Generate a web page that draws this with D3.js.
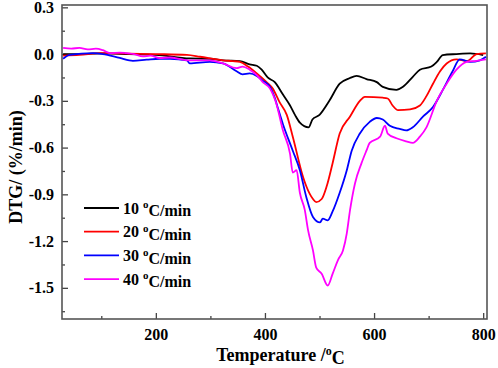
<!DOCTYPE html>
<html>
<head>
<meta charset="utf-8">
<script src="https://cdn.jsdelivr.net/npm/d3@7"></script>
<style>
  body { margin: 0; background: #fff; }
  text { font-family: "Liberation Serif", "Times New Roman", serif; font-weight: bold; }
</style>
</head>
<body>
<svg id="chart" width="498" height="368"></svg>
<script>
// DTG curves, [temperature °C, DTG %/min]
var rate10 = [[30,0.0],[60,0.0],[100,0.005],[150,0.0],[200,-0.005],[262,-0.028],[299,-0.03],[323,-0.04],[354,-0.045],[372,-0.066],[385,-0.075],[394,-0.10],[405,-0.15],[418,-0.18],[433,-0.26],[446,-0.33],[455,-0.39],[464,-0.44],[480,-0.47],[487,-0.42],[500,-0.39],[518,-0.30],[537,-0.19],[555,-0.155],[568,-0.14],[586,-0.16],[605,-0.18],[616,-0.21],[641,-0.23],[653,-0.21],[671,-0.146],[684,-0.10],[705,-0.08],[715,-0.05],[726,-0.006],[751,0.0],[776,0.004],[800,-0.006]];
var rate20 = [[30,-0.01],[60,-0.005],[100,0.006],[150,0.003],[200,0.0],[257,-0.005],[281,-0.017],[323,-0.04],[341,-0.045],[354,-0.05],[369,-0.08],[385,-0.124],[403,-0.18],[414,-0.22],[427,-0.31],[440,-0.39],[451,-0.53],[470,-0.79],[476,-0.85],[488,-0.93],[494,-0.95],[504,-0.93],[513,-0.85],[524,-0.70],[537,-0.51],[556,-0.40],[574,-0.30],[583,-0.274],[616,-0.28],[625,-0.285],[634,-0.33],[644,-0.36],[666,-0.355],[684,-0.33],[696,-0.27],[708,-0.19],[721,-0.11],[733,-0.06],[751,-0.034],[770,-0.045],[788,0.0],[805,0.004]];
var rate30 = [[30,-0.03],[42,-0.005],[85,0.006],[103,0.0],[134,-0.025],[158,-0.043],[183,-0.036],[207,-0.03],[226,-0.03],[257,-0.04],[262,-0.06],[299,-0.05],[323,-0.06],[348,-0.11],[359,-0.13],[372,-0.124],[385,-0.14],[396,-0.17],[409,-0.21],[418,-0.28],[424,-0.35],[433,-0.45],[451,-0.62],[464,-0.745],[476,-0.92],[488,-1.045],[501,-1.08],[506,-1.056],[515,-1.067],[524,-1.01],[537,-0.89],[550,-0.745],[559,-0.62],[574,-0.51],[592,-0.435],[605,-0.41],[616,-0.42],[629,-0.46],[647,-0.48],[659,-0.49],[671,-0.47],[690,-0.40],[708,-0.34],[726,-0.23],[744,-0.11],[757,-0.034],[776,-0.05],[794,-0.04],[805,-0.017]];
var rate40 = [[30,0.04],[45,0.035],[60,0.04],[75,0.03],[90,0.035],[103,0.025],[116,0.006],[134,0.01],[146,0.006],[160,0.0],[176,-0.015],[190,-0.01],[207,-0.025],[226,-0.022],[249,-0.035],[262,-0.04],[299,-0.04],[323,-0.06],[348,-0.09],[359,-0.08],[372,-0.10],[385,-0.135],[396,-0.18],[409,-0.22],[421,-0.32],[433,-0.49],[446,-0.64],[451,-0.76],[458,-0.745],[464,-0.89],[473,-1.00],[479,-1.13],[488,-1.26],[494,-1.37],[504,-1.41],[515,-1.485],[524,-1.41],[534,-1.32],[543,-1.26],[550,-1.15],[556,-1.00],[565,-0.83],[577,-0.70],[586,-0.62],[592,-0.57],[611,-0.53],[620,-0.46],[625,-0.51],[641,-0.54],[659,-0.56],[671,-0.57],[684,-0.53],[696,-0.47],[715,-0.30],[733,-0.19],[751,-0.10],[770,-0.05],[788,-0.043],[805,-0.034]];

var seriesData = [rate10, rate20, rate30, rate40];
var seriesNames = ["10", "20", "30", "40"];
var seriesColors = ["#000000", "#ff0000", "#0000ff", "#ff00ff"];

var xMajor = [200, 400, 600, 800];
var xMinor = [100, 300, 500, 700];
var yMajor = [0.3, 0.0, -0.3, -0.6, -0.9, -1.2, -1.5];
var yMinor = [0.15, -0.15, -0.45, -0.75, -1.05, -1.35, -1.65];

var margin = {top: 5, right: 11, bottom: 49, left: 62}
  , width = 498 - margin.left - margin.right
  , height = 368 - margin.top - margin.bottom;

var svg = d3.select("#chart");

var x = d3.scaleLinear()
    .domain([28, 807])
    .range([0, width]);

var y = d3.scaleLinear()
    .domain([-1.70, 0.315])
    .range([height, 0]);

var g = svg.append("g")
    .attr("transform", "translate(" + margin.left + "," + margin.top + ")");

// inward ticks
var xAxis = g.append("g")
    .attr("transform", "translate(0," + height + ")")
    .call(d3.axisBottom(x).tickValues(xMajor).tickSize(-6).tickPadding(10).tickFormat(d3.format("d")));
var xMin = g.append("g")
    .attr("transform", "translate(0," + height + ")")
    .call(d3.axisBottom(x).tickValues(xMinor).tickSize(-3).tickFormat(""));

var yAxis = g.append("g")
    .call(d3.axisLeft(y).tickValues(yMajor).tickSize(-6).tickPadding(8).tickFormat(function(d) { return d3.format(".1f")(d).replace("−", "-"); }));
var yMin = g.append("g")
    .call(d3.axisLeft(y).tickValues(yMinor).tickSize(-3).tickFormat(""));

[xAxis, xMin, yAxis, yMin].forEach(function(a) {
  a.select(".domain").remove();
  a.selectAll("line").attr("stroke", "#444").attr("stroke-width", 1.3);
  a.selectAll("text").style("font-size", "16px").attr("fill", "#000");
});

// frame
g.append("rect")
    .attr("width", width)
    .attr("height", height)
    .attr("fill", "none")
    .attr("stroke", "#555")
    .attr("stroke-width", 1.6);

var line = d3.line()
    .x(function(d) { return x(d[0]); })
    .y(function(d) { return y(d[1]); })
    .curve(d3.curveMonotoneX);

g.selectAll(".curve")
    .data(seriesData)
  .enter().append("path")
    .attr("class", "curve")
    .attr("d", line)
    .attr("fill", "none")
    .attr("stroke", function(d, i) { return seriesColors[i]; })
    .attr("stroke-width", 1.8);

// legend
var legend = g.selectAll(".legend")
    .data(seriesNames)
  .enter().append("g")
    .attr("class", "legend")
    .attr("transform", function(d, i) { return "translate(22," + (203 + i * 23.7) + ")"; });

legend.append("line")
    .attr("x1", 0).attr("x2", 35)
    .attr("stroke", function(d, i) { return seriesColors[i]; })
    .attr("stroke-width", 1.8);

var lt = legend.append("text")
    .attr("x", 39)
    .attr("dy", "0.35em")
    .style("font-size", "16px");
lt.append("tspan").text(function(d) { return d + " "; });
lt.append("tspan").attr("dy", "-0.5em").style("font-size", "11px").text("o");
lt.append("tspan").attr("dy", "0.5em").text("C/min");

// axis titles
var xt = svg.append("text")
    .attr("x", margin.left + width / 2 + 6)
    .attr("y", 361)
    .attr("text-anchor", "middle")
    .style("font-size", "18px");
xt.append("tspan").text("Temperature /");
xt.append("tspan").attr("dy", "-0.5em").style("font-size", "12px").text("o");
xt.append("tspan").attr("dy", "0.5em").text("C");

svg.append("text")
    .attr("transform", "translate(22," + 167 + ") rotate(-90)")
    .attr("text-anchor", "middle")
    .style("font-size", "18px")
    .text("DTG/ (%/min)");
</script>
</body>
</html>
